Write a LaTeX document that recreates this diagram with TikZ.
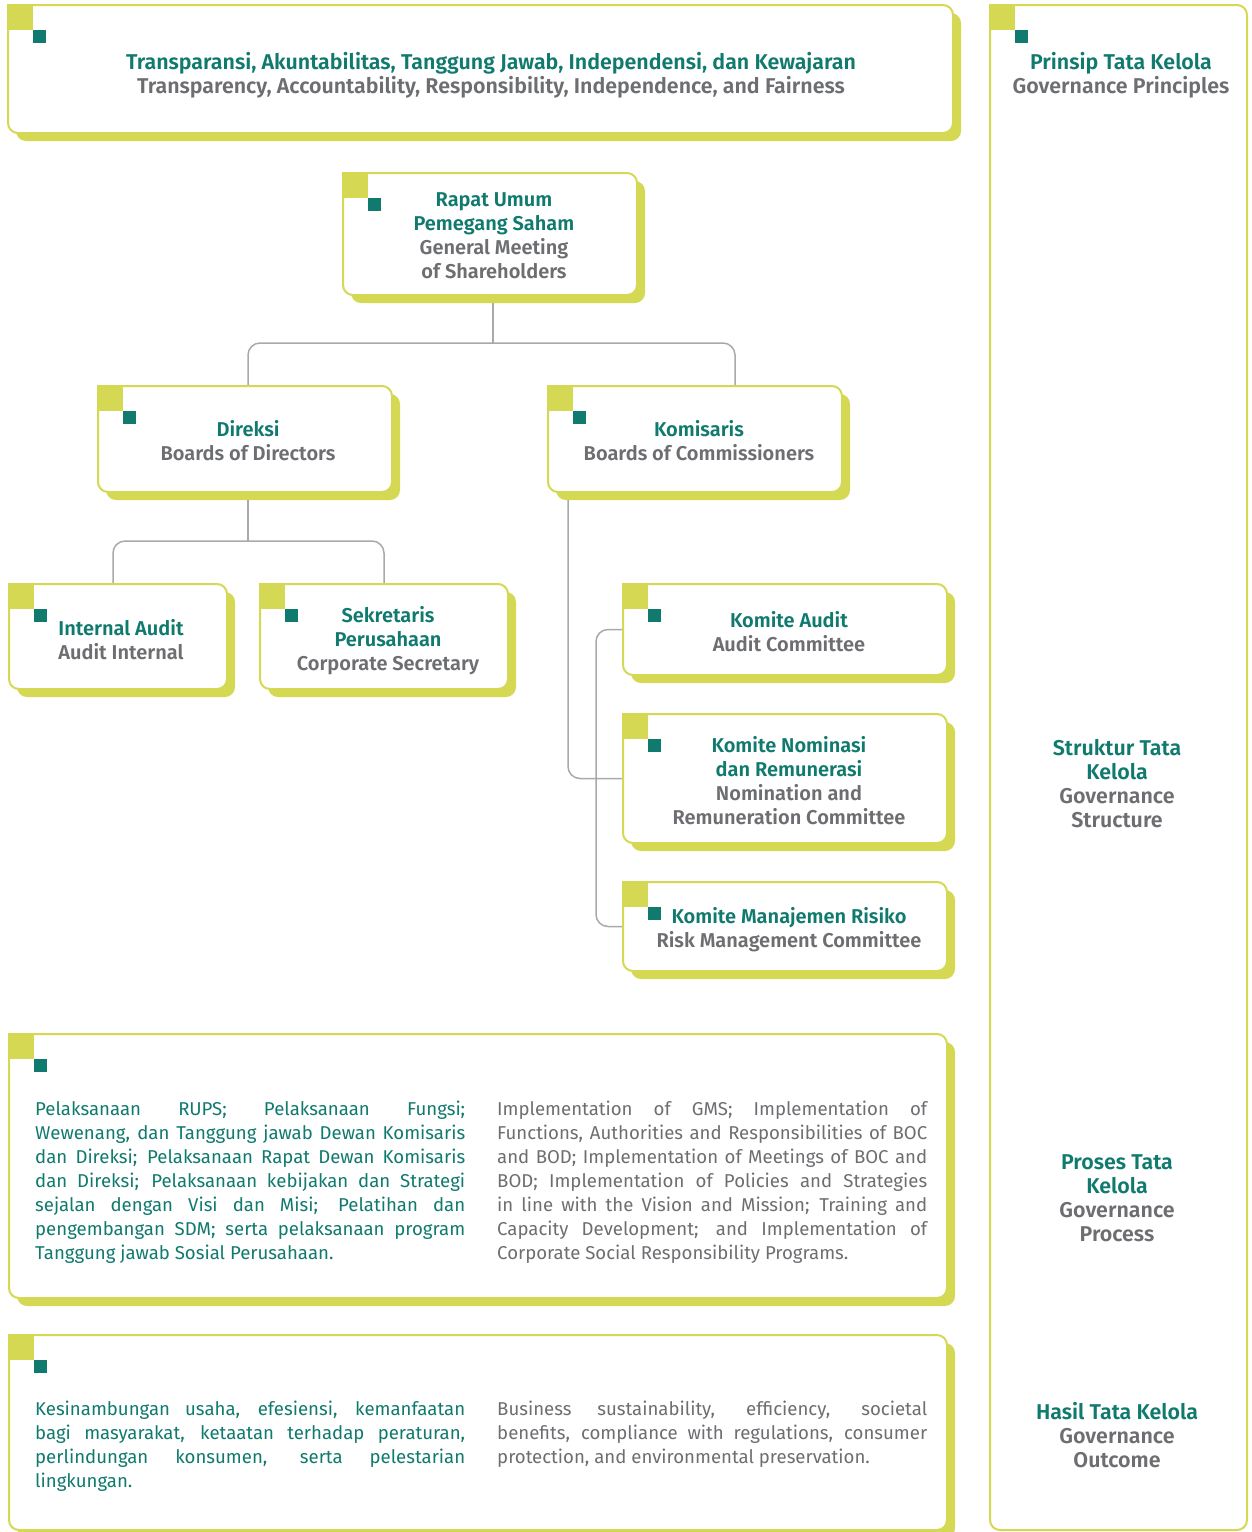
\documentclass[tikz,border=0pt]{standalone}
\usepackage{fontspec}
\setmainfont{Fira Sans}[BoldFont={Fira Sans SemiBold}]
\usetikzlibrary{shadows,backgrounds,calc}
\definecolor{lime}{HTML}{D5D852}
\definecolor{tealc}{HTML}{107A6E}
\definecolor{greyt}{HTML}{6D6E71}
\definecolor{wirec}{HTML}{A7A9AC}

\tikzset{
  panel/.style={draw=lime, line width=2pt, fill=white, rounded corners=10pt,
    inner sep=0pt, outer sep=0pt, anchor=north west},
  shadowed/.style={general shadow={fill=lime, shadow xshift=8pt, shadow yshift=-8pt}},
  head/.style={align=center, inner sep=0pt, text=greyt,
    font=\fontsize{20}{24}\selectfont\bfseries},
  bighead/.style={head, font=\fontsize{21.4}{24}\selectfont\bfseries},
  para/.style={align=justify, inner sep=0pt, anchor=north west, text width=430pt,
    font=\fontsize{18.6}{24}\selectfont},
  wire/.style={draw=wirec, line width=1.5pt, rounded corners=12pt},
}

% a panel: name, left, top, width, height, extra options
\newcommand\panelbox[6]{%
  \node[panel, #6, minimum width=#4pt, minimum height=#5pt] (#1) at (#2,#3) {};
  \fill[lime] (#1.north west) ++(-1,-1) rectangle ++(26,26);
  \fill[tealc] (#1.north west) ++(25,25) rectangle ++(13,13);
}
\newcommand\tl[1]{\textcolor{tealc}{#1}}

\begin{document}
\begin{tikzpicture}[x=1pt,y=-1pt]
\useasboundingbox (0,0) rectangle (1252,1532);

% ---- panels ----
\panelbox{principles}{8}{5}{945}{128}{shadowed}
\panelbox{side}{990}{5}{257}{1525}{}
\panelbox{rups}{343}{173}{294}{122}{shadowed}
\panelbox{dir}{98}{386}{294}{106}{shadowed}
\panelbox{kom}{548}{386}{294}{106}{shadowed}
\panelbox{ia}{9}{584}{218}{105}{shadowed}
\panelbox{sek}{260}{584}{248}{105}{shadowed}
\panelbox{aud}{623}{584}{324}{91}{shadowed}
\panelbox{nom}{623}{714}{324}{129}{shadowed}
\panelbox{risk}{623}{882}{324}{89}{shadowed}
\panelbox{proc}{9}{1034}{938}{264}{shadowed}
\panelbox{out}{9}{1335}{938}{195}{shadowed}

% ---- connectors ----
\begin{scope}[on background layer]
  \coordinate (j1) at (493,343);
  \coordinate (j2) at (248,541);
  \draw[wire] (rups.south -| j1) -- (j1);
  \draw[wire] (dir.north -| 248,0) |- (j1) -| (kom.north -| 735,0);
  \draw[wire] (dir.south -| j2) -- (j2);
  \draw[wire] (ia.north -| 113,0) |- (j2) -| (sek.north -| 384,0);
  \draw[wire] (kom.south -| 568,0) |- (nom.west);
  \draw[wire] (aud.west) -| ($(risk.west)+(-27,0)$) -- (risk.west);
\end{scope}

% ---- titles ----
\node[bighead] (tprin) at (491,75) {\tl{Transparansi, Akuntabilitas, Tanggung Jawab, Independensi, dan Kewajaran}\\Transparency, Accountability, Responsibility, Independence, and Fairness};
\node[bighead] (tside1) at (1121,75) {\tl{Prinsip Tata Kelola}\\Governance Principles};
\node[head] (trups) at (494,236) {\tl{Rapat Umum}\\\tl{Pemegang Saham}\\General Meeting\\of Shareholders};
\node[head] (tdir) at (248,441) {\tl{Direksi}\\Boards of Directors};
\node[head] (tkom) at (699,441) {\tl{Komisaris}\\Boards of Commissioners};
\node[head] (tia) at (121,640) {\tl{Internal Audit}\\Audit Internal};
\node[head] (tsek) at (388,641) {\tl{Sekretaris}\\\tl{Perusahaan}\\Corporate Secretary};
\node[head] (taud) at (789,632) {\tl{Komite Audit}\\Audit Committee};
\node[head] (tnom) at (789,781) {\tl{Komite Nominasi}\\\tl{dan Remunerasi}\\Nomination and\\Remuneration Committee};
\node[head] (trisk) at (789,930) {\tl{Komite Manajemen Risiko}\\Risk Management Committee};
\node[bighead] (tside2) at (1117,784) {\tl{Struktur Tata}\\\tl{Kelola}\\Governance\\Structure};
\node[bighead] (tside3) at (1117,1198) {\tl{Proses Tata}\\\tl{Kelola}\\Governance\\Process};
\node[bighead] (tside4) at (1117,1435) {\tl{Hasil Tata Kelola}\\Governance\\Outcome};

% ---- paragraphs ----
\node[para, text=tealc] (pproc1) at (35,1101) {Pelaksanaan RUPS; Pelaksanaan Fungsi;\linebreak
Wewenang, dan Tanggung jawab Dewan Komisaris\linebreak
dan Direksi; Pelaksanaan Rapat Dewan Komisaris\linebreak
dan Direksi; Pelaksanaan kebijakan dan Strategi\linebreak
sejalan dengan Visi dan Misi; Pelatihan dan\linebreak
pengembangan SDM; serta pelaksanaan program\linebreak
Tanggung jawab Sosial Perusahaan.};
\node[para, text=greyt] (pproc2) at (497,1101) {Implementation of GMS; Implementation of\linebreak
Functions, Authorities and Responsibilities of BOC\linebreak
and BOD; Implementation of Meetings of BOC and\linebreak
BOD; Implementation of Policies and Strategies\linebreak
in line with the Vision and Mission; Training and\linebreak
Capacity Development; and Implementation of\linebreak
Corporate Social Responsibility Programs.};
\node[para, text=tealc] (pout1) at (35,1401) {Kesinambungan usaha, efesiensi, kemanfaatan\linebreak
bagi masyarakat, ketaatan terhadap peraturan,\linebreak
perlindungan konsumen, serta pelestarian\linebreak
lingkungan.};
\node[para, text=greyt] (pout2) at (497,1401) {Business sustainability, efficiency, societal\linebreak
benefits, compliance with regulations, consumer\linebreak
protection, and environmental preservation.};
\end{tikzpicture}
\end{document}
